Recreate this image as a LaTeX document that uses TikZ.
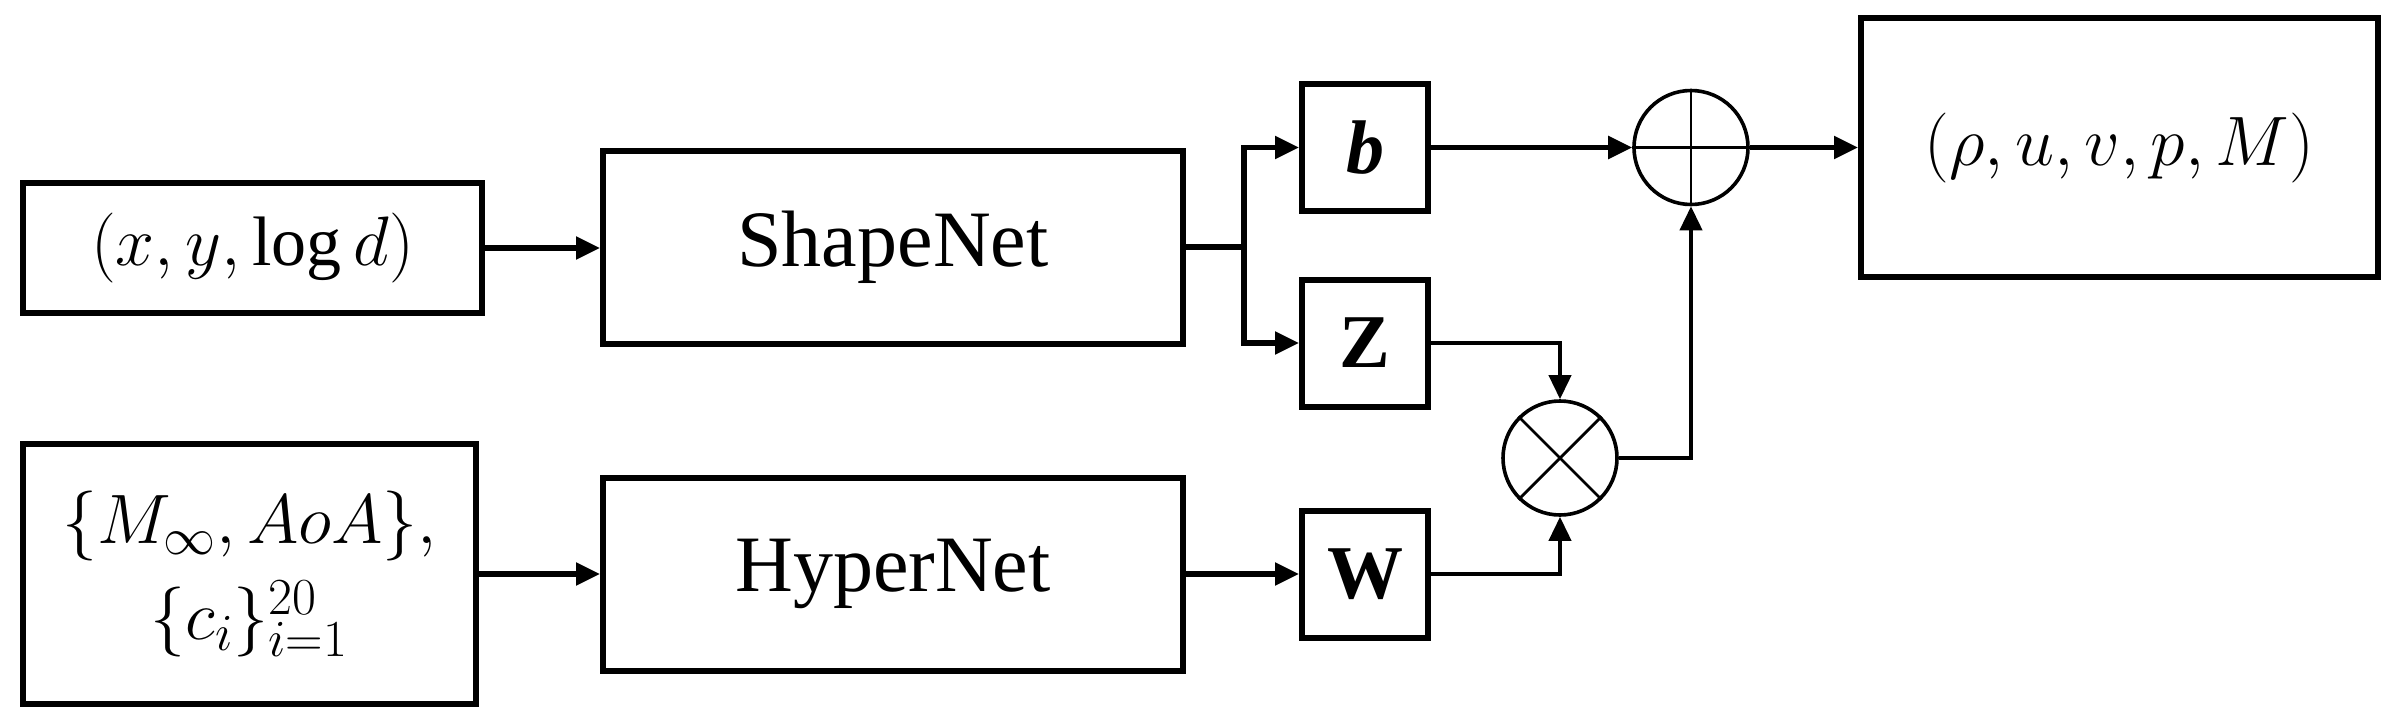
\RequirePackage{fix-cm}
\documentclass[tikz,border=0pt]{standalone}
\usepackage{amsmath}
\usepackage{fontspec}
\setmainfont{Liberation Serif}
\DeclareMathSizes{35}{35}{26}{20}
\usetikzlibrary{arrows.meta}
\tikzset{
  blk/.style={draw, line width=3pt, rectangle, inner sep=0pt, align=center},
  netbox/.style={blk, minimum width=290pt, minimum height=96.5pt, font=\fontsize{40}{48}\selectfont},
  vecbox/.style={blk, minimum width=63pt, minimum height=63.5pt, font=\fontsize{38}{44}\selectfont},
  mathbox/.style={blk, font=\fontsize{35}{48}\selectfont},
  opnode/.style={draw, circle, line width=1.8pt, minimum size=57pt, inner sep=0pt},
  conn/.style={line width=2.6pt},
  arr/.style={conn, -{Triangle[length=12pt,width=11pt]}},
  thinarr/.style={line width=2pt, -{Triangle[length=12pt,width=11pt]}},
  inner/.style={line width=1.4pt}
}
\begin{document}
\begin{tikzpicture}[x=0.5pt, y=-0.5pt]
\useasboundingbox (0,0) rectangle (2393,723);
% nodes
\node[mathbox, minimum width=229.5pt, minimum height=65pt] (in1) at (252.5,248) {$(x,y,\log d)$};
\node[netbox] (shape) at (893,247) {ShapeNet};
\node[mathbox, minimum width=226.5pt, minimum height=130pt] (in2) at (249.5,574)
  {$\{M_\infty,AoA\},$\\[0pt]$\{c_i\}_{i=1}^{20}$};
\node[netbox] (hyper) at (893,574) {HyperNet};
\node[vecbox] (b) at (1365,147.5) {\textbf{\textit{b}}};
\node[vecbox] (Z) at (1365,343) {\textbf{Z}};
\node[vecbox] (W) at (1365,574) {\textbf{W}};
\node[opnode] (oplus) at (1691,147.5) {};
\node[opnode] (otimes) at (1560,458) {};
\node[mathbox, minimum width=258.5pt, minimum height=129.5pt] (out) at (2119.5,147.5) {$(\rho,u,v,p,M)$};
\coordinate (split) at (1244,247);
% operator symbols
\draw[inner] (oplus.north) -- (oplus.south) (oplus.west) -- (oplus.east);
\draw[inner] (otimes.north west) -- (otimes.south east) (otimes.north east) -- (otimes.south west);
% connectors
\draw[arr] (in1.east) -- (in1.east -| shape.west);
\draw[arr] (in2) -- (hyper);
\draw[conn] (shape.east) -- (split);
\draw[arr] (split) |- (b);
\draw[arr] (split) |- (Z);
\draw[arr] (hyper) -- (W);
\draw[arr] (b) -- (oplus);
\draw[arr] (oplus) -- (out);
\draw[thinarr] (Z.east) -| (otimes.north);
\draw[thinarr] (W.east) -| (otimes.south);
\draw[thinarr] (otimes.east) -| (oplus.south);
\end{tikzpicture}
\end{document}
